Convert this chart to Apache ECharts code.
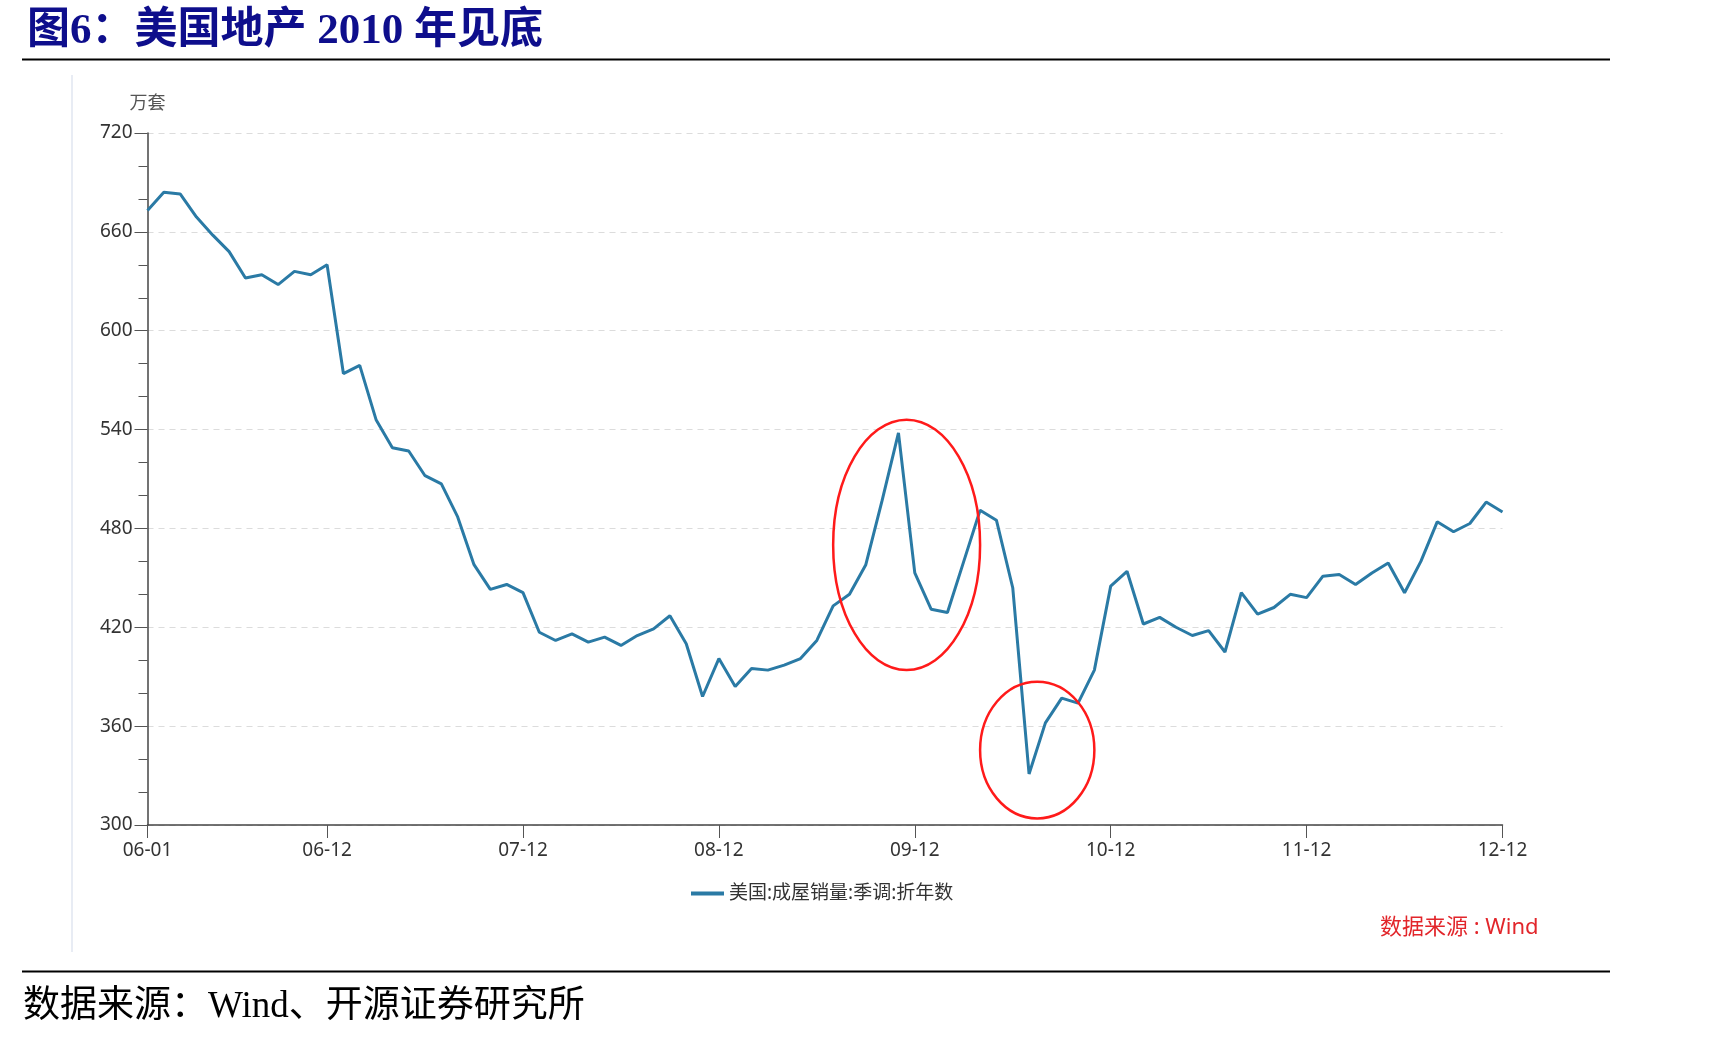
<!DOCTYPE html>
<html>
<head>
<meta charset="utf-8">
<script src="https://cdn.jsdelivr.net/npm/echarts@6/dist/echarts.min.js"></script>
<style>
  html, body { margin: 0; padding: 0; background: #fff; }
  #main { width: 1735px; height: 1038px; }
</style>
</head>
<body>
<div id="main"></div>
<script>
// 年份、月份 -> 横轴类目 (YY-MM)
var years = ['06', '07', '08', '09', '10', '11', '12'];
var months = ['01', '02', '03', '04', '05', '06', '07', '08', '09', '10', '11', '12'];
var categories = [];
years.forEach(function (y) {
  months.forEach(function (m) { categories.push(y + '-' + m); });
});

// 美国:成屋销量:季调:折年数 (万套)，2006-01 ~ 2012-12
var sales = [
  673, 684, 683, 669, 658, 648, 632, 634, 628, 636, 634, 640,
  574, 579, 546, 529, 527, 512, 507, 487, 458, 443, 446, 441,
  417, 412, 416, 411, 414, 409, 415, 419, 427, 410, 378, 401,
  384, 395, 394, 397, 401, 412, 433, 440, 458, 497, 538, 453,
  431, 429, 460, 491, 485, 444, 331, 362, 377, 374, 394, 445,
  454, 422, 426, 420, 415, 418, 405, 441, 428, 432, 440, 438,
  451, 452, 446, 453, 459, 441, 460, 484, 478, 483, 496, 490
];

// 纵轴刻度
var yTicks = [300, 360, 420, 480, 540, 600, 660, 720];
// 横轴显示标签的位置
var xLabelIndex = [0, 11, 23, 35, 47, 59, 71, 83];

// 红圈标注的范围 [起始类目, 结束类目, 最低值, 最高值]
var circles = [
  [42, 51, 394, 546],
  [51.1, 58.3, 304, 387]
];

var seriesName = '美国:成屋销量:季调:折年数';
var sansFont = 'Noto Sans, Noto Sans CJK SC, sans-serif';

var myChart = echarts.init(document.getElementById('main'));

function showIdx(i) { return xLabelIndex.indexOf(i) >= 0; }

var option = {
  animation: false,
  backgroundColor: '#fff',
  title: {
    text: '图6：美国地产 2010 年见底',
    left: 22,
    top: 5,
    textStyle: {
      color: '#0e0e8c',
      fontSize: 43,
      fontWeight: 'bold',
      fontFamily: 'Liberation Serif, Noto Sans CJK SC, serif'
    }
  },
  grid: {
    left: 147.5,
    right: 232.5,
    top: 133,
    bottom: 213
  },
  legend: {
    left: 686,
    top: 879,
    itemWidth: 33,
    itemHeight: 4,
    icon: 'rect',
    itemGap: 6,
    textStyle: { color: '#333', fontSize: 19, fontFamily: sansFont },
    data: [seriesName]
  },
  xAxis: {
    type: 'category',
    boundaryGap: false,
    data: categories,
    axisLine: { lineStyle: { color: '#444', width: 1.5 } },
    axisTick: {
      length: 13,
      lineStyle: { color: '#555' },
      interval: function (i) { return showIdx(i); }
    },
    axisLabel: {
      color: '#333',
      fontSize: 19,
      fontFamily: sansFont,
      margin: 16,
      interval: function (i) { return showIdx(i); }
    },
    splitLine: { show: false }
  },
  yAxis: {
    type: 'value',
    min: yTicks[0],
    max: yTicks[yTicks.length - 1],
    interval: 60,
    name: '万套',
    nameLocation: 'end',
    nameGap: 20,
    nameTextStyle: { color: '#555', fontSize: 18, fontFamily: sansFont },
    axisLine: { show: true, lineStyle: { color: '#444', width: 1.5 } },
    axisTick: { show: true, length: 13, lineStyle: { color: '#555' } },
    minorTick: { show: true, splitNumber: 3, length: 9, lineStyle: { color: '#555' } },
    axisLabel: { color: '#333', fontSize: 19, fontFamily: sansFont, margin: 15 },
    splitLine: { show: true, lineStyle: { color: '#dcdcdc', type: [6, 5], width: 1.2 } }
  },
  series: [{
    name: seriesName,
    type: 'line',
    data: sales,
    symbol: 'none',
    lineStyle: { color: '#2a7aa5', width: 3 },
    itemStyle: { color: '#2a7aa5' }
  }],
  graphic: [
    {
      type: 'line',
      shape: { x1: 22, y1: 59.5, x2: 1610, y2: 59.5 },
      style: { stroke: '#000', lineWidth: 2 }
    },
    {
      type: 'line',
      shape: { x1: 72, y1: 75, x2: 72, y2: 952 },
      style: { stroke: '#e8ecf4', lineWidth: 2 }
    },
    {
      type: 'text',
      left: 1380,
      top: 917,
      style: {
        text: '数据来源 : Wind',
        fill: '#e2262b',
        fontSize: 22,
        fontFamily: sansFont
      }
    },
    {
      type: 'line',
      shape: { x1: 22, y1: 971.5, x2: 1610, y2: 971.5 },
      style: { stroke: '#000', lineWidth: 2 }
    },
    {
      type: 'text',
      left: 23,
      top: 989,
      style: {
        text: '数据来源：Wind、开源证券研究所',
        fill: '#000',
        fontSize: 37,
        fontFamily: 'Liberation Serif, Noto Sans CJK SC, serif'
      }
    }
  ]
};

myChart.setOption(option);

// 红色椭圆标注，按数据坐标换算到像素
var ellipses = circles.map(function (c) {
  var p1 = myChart.convertToPixel({ gridIndex: 0 }, [c[0], c[3]]);
  var p2 = myChart.convertToPixel({ gridIndex: 0 }, [c[1], c[2]]);
  return {
    type: 'ellipse',
    shape: {
      cx: (p1[0] + p2[0]) / 2,
      cy: (p1[1] + p2[1]) / 2,
      rx: Math.abs(p2[0] - p1[0]) / 2,
      ry: Math.abs(p2[1] - p1[1]) / 2
    },
    style: { fill: 'none', stroke: '#ff1a1a', lineWidth: 2.5 },
    z: 10
  };
});

myChart.setOption({ graphic: option.graphic.concat(ellipses) });
</script>
</body>
</html>
